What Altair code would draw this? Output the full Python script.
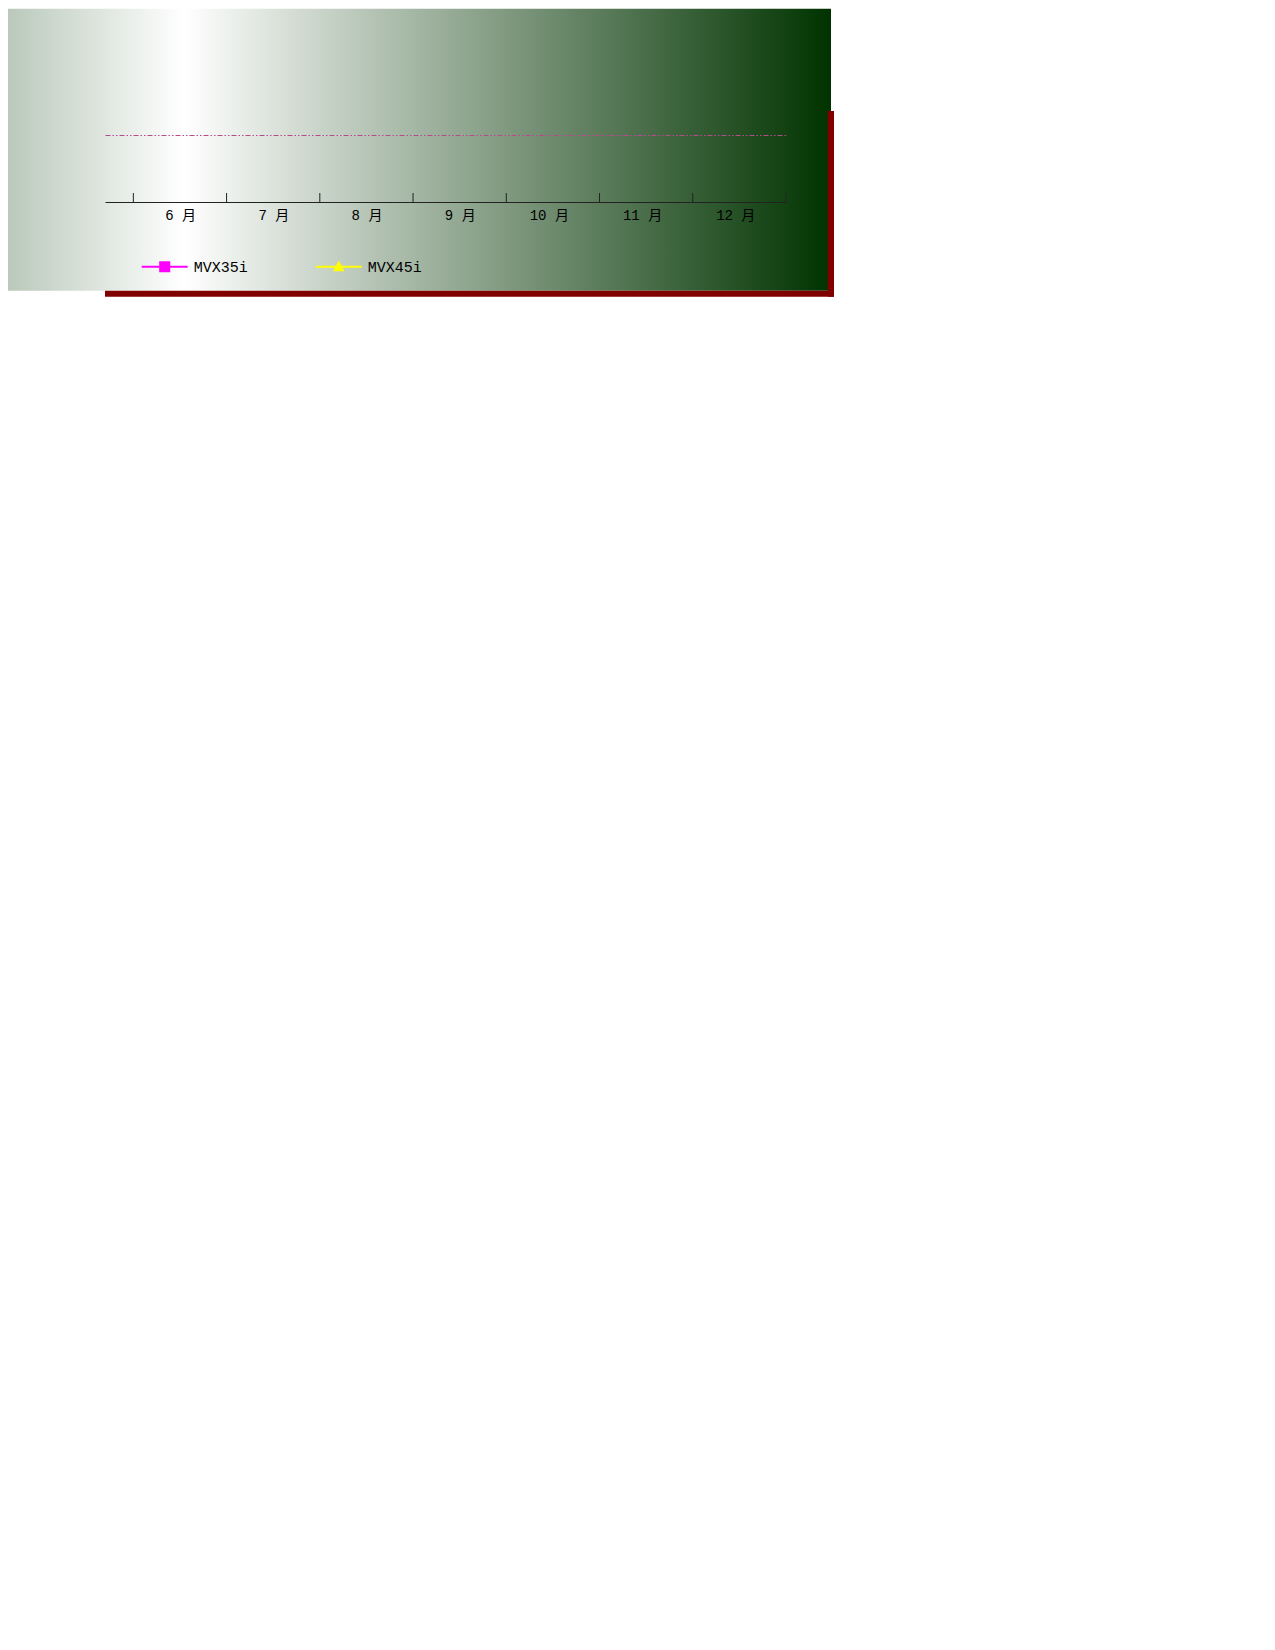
import altair as alt
import pandas as pd

months = ["6 月", "7 月", "8 月", "9 月", "10 月", "11 月", "12 月"]
series = ["MVX35i", "MVX45i"]
mvx35i = [None, None, None, None, None, None, None]
mvx45i = [None, None, None, None, None, None, None]
series_colors = ["#ff00ff", "#ffff00"]
# legend glyphs: a line with a square / a triangle in its middle
series_shapes = [
    "M-1,-0.045H1V0.045H-1ZM-0.24,-0.24H0.24V0.24H-0.24Z",
    "M-1,-0.045H1V0.045H-1ZM0,-0.27L0.25,0.2H-0.25Z",
]

rows = []
for name, vals in zip(series, [mvx35i, mvx45i]):
    for m, v in zip(months, vals):
        rows.append({"month": m, "series": name, "value": v})
df = pd.DataFrame(rows)

W, H = 681, 67
FONT = "Liberation Mono, Noto Sans CJK SC"

xscale = alt.Scale(type="band", domain=months, paddingInner=0, paddingOuter=0.152, align=1)
x_enc = alt.X(
    "month:N", sort=months, scale=xscale,
    axis=alt.Axis(title=None, ticks=False, labelAngle=0, labelFont=FONT, labelFontSize=14,
                  labelColor="#000000", labelPadding=6, labelBaseline="top", labelOffset=16,
                  domainColor="#222222", domainWidth=1, grid=False, zindex=1),
)
y_enc = alt.Y(
    "value:Q", scale=alt.Scale(domain=[0, 1]),
    axis=alt.Axis(title=None, values=[1], grid=True, gridColor="#b84a8a", gridWidth=1,
                  gridDash=[5, 2, 1.5, 2, 1.5, 2], domain=False, ticks=False, labels=False,
                  zindex=1),
)
legend_kw = dict(title=None, orient="none", legendX=36.7, legendY=108.7,
                 direction="horizontal", columns=2, columnPadding=67,
                 labelFont=FONT, labelFontSize=15, labelColor="#000000",
                 labelOffset=6, symbolSize=2116, symbolStrokeWidth=0,
                 padding=0, zindex=1)
color_enc = alt.Color(
    "series:N", scale=alt.Scale(domain=series, range=series_colors),
    legend=alt.Legend(**legend_kw),
)
shape_enc = alt.Shape(
    "series:N", scale=alt.Scale(domain=series, range=series_shapes),
    legend=alt.Legend(**legend_kw),
)

one = alt.Data(values=[{}])

background = alt.Chart(one).mark_rect(
    color=alt.LinearGradient(
        gradient="linear", x1=0, x2=1, y1=0, y2=0,
        stops=[alt.GradientStop(color="#bac9bb", offset=0),
               alt.GradientStop(color="#ffffff", offset=0.214),
               alt.GradientStop(color="#003300", offset=1)],
    )
).encode(x=alt.value(-97), x2=alt.value(726), y=alt.value(-126.3), y2=alt.value(155.7))

shadow_right = alt.Chart(one).mark_rect(color="#800000").encode(
    x=alt.value(722.7), x2=alt.value(729), y=alt.value(-24), y2=alt.value(161.7))
shadow_bottom = alt.Chart(one).mark_rect(color="#800000").encode(
    x=alt.value(0), x2=alt.value(729), y=alt.value(155.7), y2=alt.value(161.7))

tick_df = pd.DataFrame({"month": months})
ticks_start = alt.Chart(tick_df).mark_rule(color="#222222", strokeWidth=1).encode(
    x=alt.X("month:N", sort=months, scale=xscale, bandPosition=0),
    y=alt.value(H - 9), y2=alt.value(H))
ticks_end = alt.Chart(tick_df).transform_filter(
    alt.datum.month == months[-1]
).mark_rule(color="#222222", strokeWidth=1).encode(
    x=alt.X("month:N", sort=months, scale=xscale, bandPosition=1),
    y=alt.value(H - 9), y2=alt.value(H))

lines = alt.Chart(df).mark_line(strokeWidth=2).encode(
    x=x_enc, y=y_enc, color=color_enc)
points = alt.Chart(df).mark_point(filled=True, opacity=1, size=80).encode(
    x=x_enc, y=y_enc, color=color_enc, shape=shape_enc)

chart = alt.layer(
    background, shadow_right, shadow_bottom, ticks_start, ticks_end, lines, points
).properties(width=W, height=H, padding=0).configure_view(strokeWidth=0)

chart.save("out.html", embed_options={"renderer": "svg", "actions": False})
